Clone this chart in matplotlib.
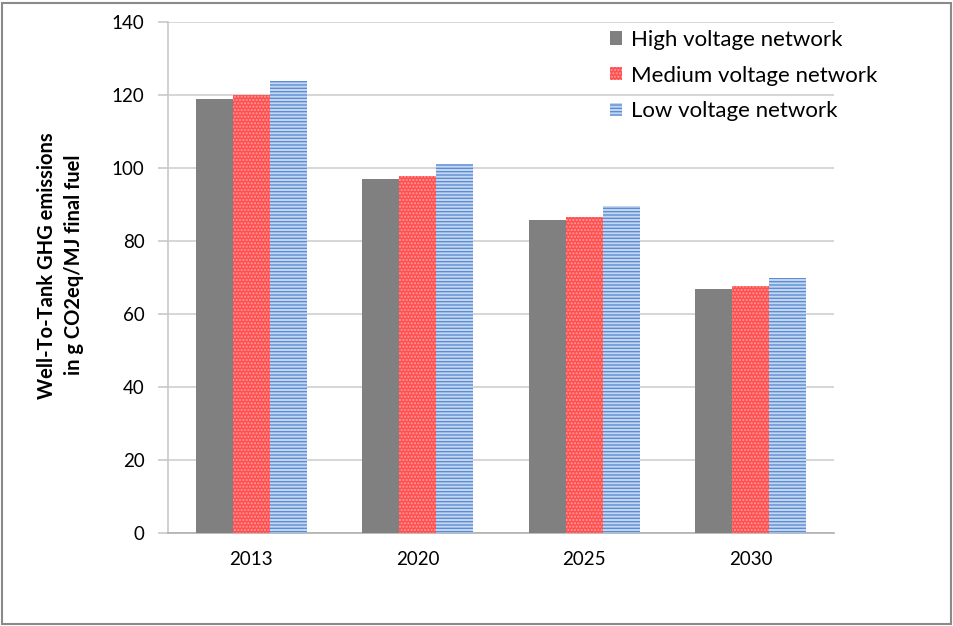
import matplotlib
matplotlib.use("Agg")
import matplotlib.pyplot as plt
import numpy as np
from matplotlib.patches import Rectangle

years = ["2013", "2020", "2025", "2030"]
high_voltage = [118.9, 97.0, 85.7, 66.9]
medium_voltage = [120.0, 97.8, 86.6, 67.7]
low_voltage = [123.8, 101.1, 89.5, 69.8]
series_names = ["High voltage network", "Medium voltage network", "Low voltage network"]

plt.rcParams['font.family'] = ['Lato', 'DejaVu Sans']
plt.rcParams['hatch.linewidth'] = 1.0

fig = plt.figure(figsize=(9.54, 6.26), dpi=100)
W, H = 954, 626
ax = fig.add_axes([168 / W, 1 - 533 / H, (834 - 168) / W, (533 - 22) / H])

x = np.arange(len(years))
bw = 0.222
ax.bar(x - bw, high_voltage, bw, color='#808080', linewidth=0, label=series_names[0], zorder=3)
ax.bar(x, medium_voltage, bw, facecolor='#ff4f4f', edgecolor='#ff9a9a', hatch='.....',
       linewidth=0, label=series_names[1], zorder=3)
ax.bar(x + bw, low_voltage, bw, facecolor='#c5d7ef', edgecolor='#5b8dd6', hatch='-----',
       linewidth=0, label=series_names[2], zorder=3)

ax.set_xlim(-0.5, 3.5)
ax.set_ylim(0, 140)
ax.set_yticks(np.arange(0, 141, 20))
ax.set_xticks(x)
ax.set_xticklabels(years)
ax.yaxis.grid(True, color='#d0d0d0', linewidth=1.2, zorder=0)
ax.set_axisbelow(True)
for s in ['top', 'right']:
    ax.spines[s].set_visible(False)
ax.spines['left'].set_color('#c8c8c8')
ax.spines['bottom'].set_color('#b0b0b0')
ax.spines['left'].set_linewidth(1.2)
ax.spines['bottom'].set_linewidth(1.2)
ax.tick_params(axis='y', length=7, color='#c8c8c8', labelsize=13.5, pad=10, width=1.2)
ax.tick_params(axis='x', length=0, labelsize=13.5, pad=13)

ax.set_ylabel("Well-To-Tank GHG emissions\nin g CO2eq/MJ final fuel", fontsize=14.5,
              fontweight='bold', linespacing=1.45)
ax.yaxis.set_label_coords((84 - 168) / 666, 0.524)

leg = fig.legend(loc='upper left', bbox_to_anchor=(610 / W, 1 - 30 / H), frameon=False,
                 fontsize=16, handlelength=0.55, handleheight=0.55, handletextpad=0.4,
                 labelspacing=0.7, borderpad=0, borderaxespad=0)

fig.patches.append(Rectangle((2 / W, 2 / H), 1 - 5 / W, 1 - 5 / H, transform=fig.transFigure,
                             fill=False, edgecolor='#8a8a8a', linewidth=1.5))

fig.savefig("out.png", dpi=100)
